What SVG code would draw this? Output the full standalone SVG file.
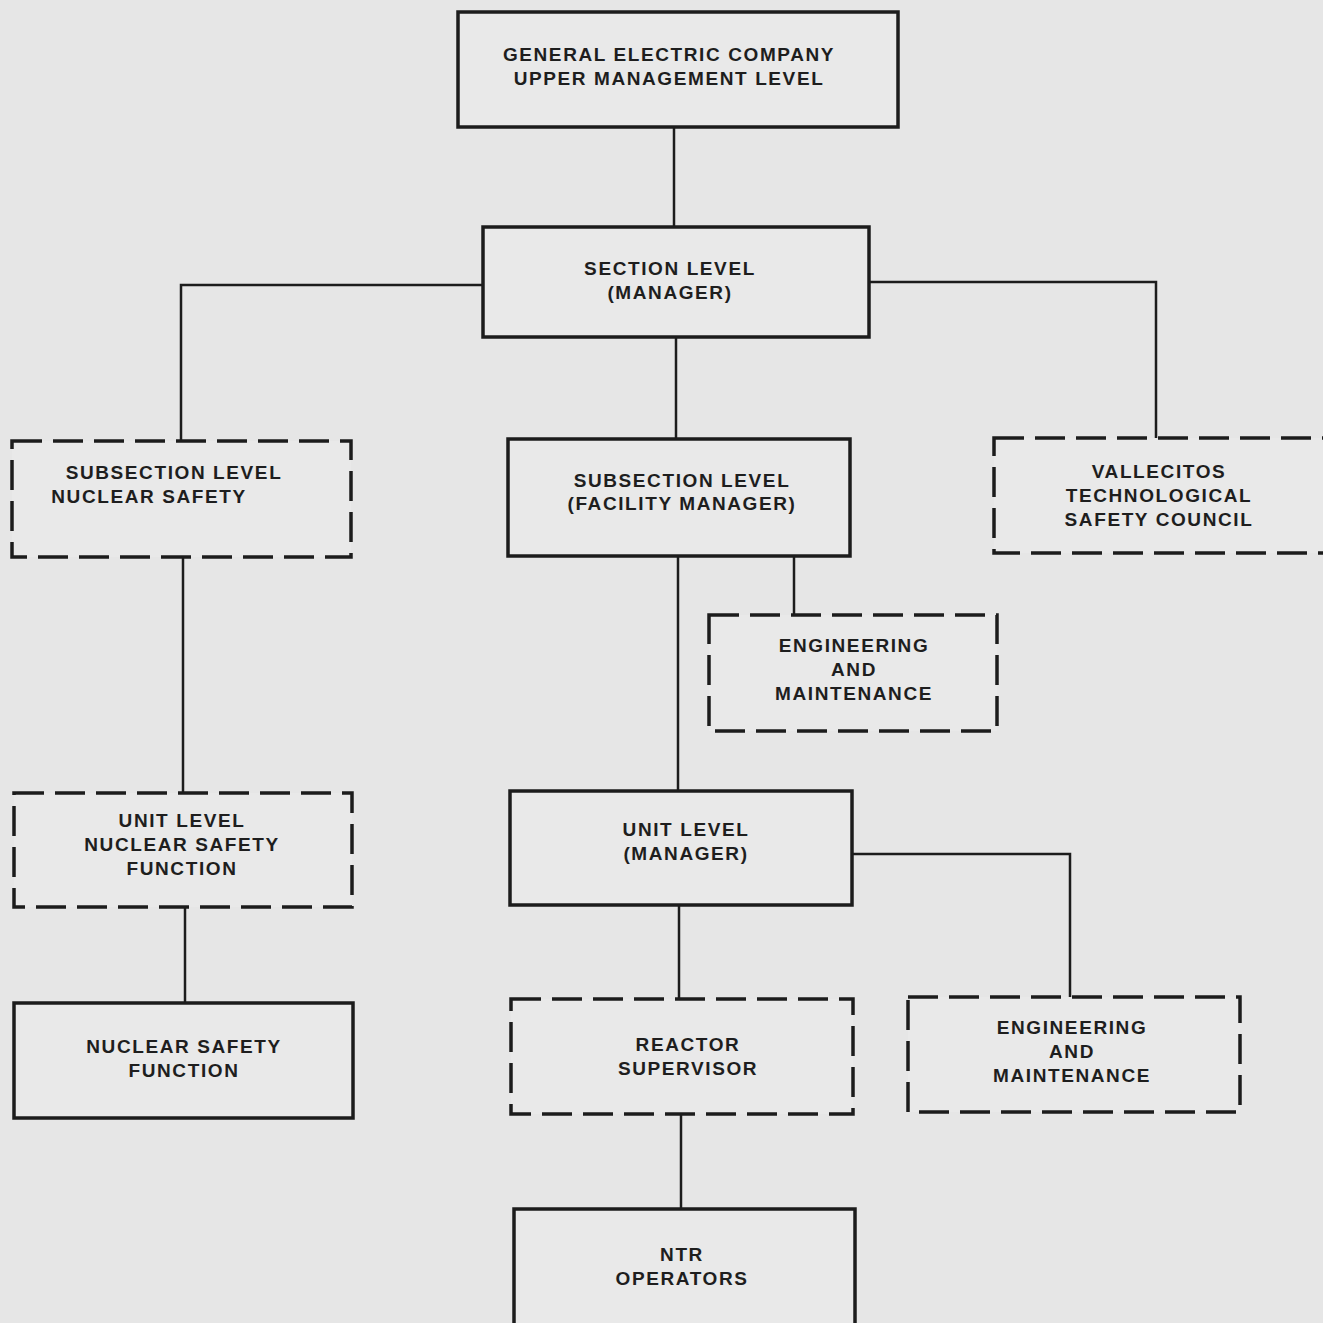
<svg xmlns="http://www.w3.org/2000/svg" width="1323" height="1323" viewBox="0 0 1323 1323">
<style>
.box{fill:#e9e9e9;stroke:#1c1c1c;stroke-width:3.5}
.dash{fill:#e9e9e9;stroke:#1c1c1c;stroke-width:3.5;stroke-dasharray:30 11}
.con{fill:none;stroke:#1c1c1c;stroke-width:2.5}
text{font-family:"Liberation Sans",Arial,sans-serif;font-weight:bold;font-size:19px;fill:#1e1e1e;text-anchor:middle;letter-spacing:1.6px}
</style>
<rect width="1323" height="1323" fill="#e6e6e6"/>
<g id="connectors">
<path class="con" d="M674 127V227"/>
<path class="con" d="M483 285H181V441"/>
<path class="con" d="M869 282H1156V438"/>
<path class="con" d="M676 337V439"/>
<path class="con" d="M794 556V615"/>
<path class="con" d="M678 556V791"/>
<path class="con" d="M183 557V793"/>
<path class="con" d="M185 907V1003"/>
<path class="con" d="M679 905V999"/>
<path class="con" d="M852 854H1070V997"/>
<path class="con" d="M681 1114V1209"/>
</g>
<g id="ge"><rect class="box" x="458" y="12" width="440" height="115"/>
<text x="669" y="61">GENERAL ELECTRIC COMPANY</text><text x="669" y="85">UPPER MANAGEMENT LEVEL</text></g>
<g id="section"><rect class="box" x="483" y="227" width="386" height="110"/>
<text x="670" y="275">SECTION LEVEL</text><text x="670" y="299">(MANAGER)</text></g>
<g id="subsection-ns"><rect class="dash" x="12" y="441" width="339" height="116"/>
<text x="174" y="479">SUBSECTION LEVEL</text><text x="149" y="503">NUCLEAR SAFETY</text></g>
<g id="subsection-fm"><rect class="box" x="508" y="439" width="342" height="117"/>
<text x="682" y="487">SUBSECTION LEVEL</text><text x="682" y="510">(FACILITY MANAGER)</text></g>
<g id="vallecitos"><rect class="dash" x="994" y="438" width="345" height="115"/>
<text x="1159" y="478">VALLECITOS</text><text x="1159" y="502">TECHNOLOGICAL</text><text x="1159" y="526">SAFETY COUNCIL</text></g>
<g id="eng1"><rect class="dash" x="709" y="615" width="288" height="116"/>
<text x="854" y="652">ENGINEERING</text><text x="854" y="676">AND</text><text x="854" y="700">MAINTENANCE</text></g>
<g id="unit-ns"><rect class="dash" x="14" y="793" width="338" height="114"/>
<text x="182" y="827">UNIT LEVEL</text><text x="182" y="851">NUCLEAR SAFETY</text><text x="182" y="875">FUNCTION</text></g>
<g id="unit-mgr"><rect class="box" x="510" y="791" width="342" height="114"/>
<text x="686" y="836">UNIT LEVEL</text><text x="686" y="860">(MANAGER)</text></g>
<g id="ns-function"><rect class="box" x="14" y="1003" width="339" height="115"/>
<text x="184" y="1053">NUCLEAR SAFETY</text><text x="184" y="1077">FUNCTION</text></g>
<g id="reactor-sup"><rect class="dash" x="511" y="999" width="342" height="115"/>
<text x="688" y="1051">REACTOR</text><text x="688" y="1075">SUPERVISOR</text></g>
<g id="eng2"><rect class="dash" x="908" y="997" width="332" height="115"/>
<text x="1072" y="1034">ENGINEERING</text><text x="1072" y="1058">AND</text><text x="1072" y="1082">MAINTENANCE</text></g>
<g id="ntr"><rect class="box" x="514" y="1209" width="341" height="130"/>
<text x="682" y="1261">NTR</text><text x="682" y="1285">OPERATORS</text></g>
</svg>
